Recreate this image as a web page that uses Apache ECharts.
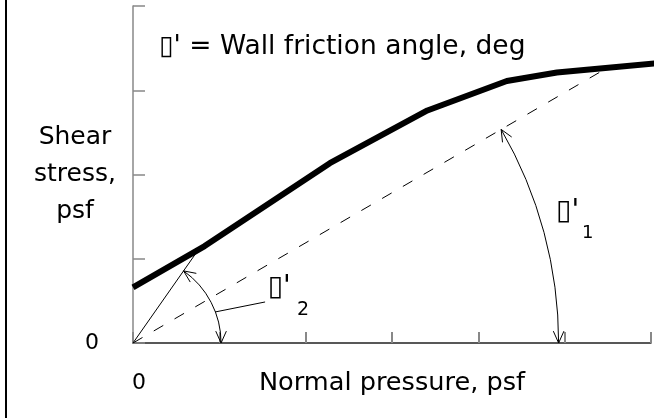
<!DOCTYPE html>
<html><head><meta charset="utf-8">
<script src="https://cdn.jsdelivr.net/npm/echarts@6/dist/echarts.min.js"></script>
<style>html,body{margin:0;padding:0;background:#fff}#c{width:669px;height:418px}</style>
</head><body><div id="c"></div>
<script>
// ---- data ----
const xTicks = [0, 1, 2, 3, 4, 5, 6];
const yTicks = [0, 1, 2, 3, 4];
const envelopeX = [0, 0.83, 2.28, 3.41, 4.33, 4.91, 6.07];
const envelopeY = [0.66, 1.15, 2.135, 2.76, 3.11, 3.21, 3.32];
const delta1LineX = [0, 5.45];
const delta1LineY = [0, 3.24];
const delta2LineX = [0, 0.78];
const delta2LineY = [0, 1.14];
const leaderX = [1.53, 0.95];
const leaderY = [0.487, 0.368];
const arc1RadiusX = 4.93;
const arc2RadiusX = 1.02;
const titleText = "\u25AF' = Wall friction angle, deg";
const xName = "Normal pressure, psf";
const yName = "Shear\nstress,\npsf";
const label1Main = "\u25AF'"; const label1Sub = "1";
const label2Main = "\u25AF'"; const label2Sub = "2";
// label anchors (data units)
const label1At = [4.90, 1.73]; const label1SubAt = [5.20, 1.41];
const label2At = [1.56, 0.82];  const label2SubAt = [1.90, 0.50];

const FONT = "'DejaVu Sans', sans-serif";
const zip = (a, b) => a.map((v, i) => [v, b[i]]);

const chart = echarts.init(document.getElementById('c'), null, {renderer: 'canvas'});
const option = {
  animation: false,
  backgroundColor: '#fff',
  title: {
    text: titleText, left: 159, top: 34, padding: 0,
    textStyle: {fontFamily: FONT, fontSize: 26.5, fontWeight: 'normal', color: '#000'}
  },
  grid: {left: 133, right: 18, top: 6, bottom: 75, containLabel: false, outerBoundsMode: 'none'},
  xAxis: {
    type: 'value', min: xTicks[0], max: xTicks[xTicks.length - 1], interval: 1,
    axisLine: {show: true, onZero: false, lineStyle: {color: '#222', width: 1.5}},
    axisTick: {show: true, inside: true, length: 11, lineStyle: {color: '#888', width: 2}},
    axisLabel: {formatter: v => (v === 0 ? '0' : ''), margin: 29, color: '#000', fontSize: 22,
      fontFamily: FONT, padding: [0, 0, 0, 12]},
    splitLine: {show: false},
    name: xName, nameLocation: 'middle', nameGap: 27, nameMoveOverlap: false,
    nameTextStyle: {fontFamily: FONT, fontSize: 25.6, color: '#000'}
  },
  yAxis: {
    type: 'value', min: yTicks[0], max: yTicks[yTicks.length - 1], interval: 1,
    axisLine: {show: true, onZero: false, lineStyle: {color: '#888', width: 1.5}},
    axisTick: {show: true, inside: true, length: 12, lineStyle: {color: '#888', width: 1.5}},
    axisLabel: {formatter: v => (v === 0 ? '0' : ''), margin: 34, color: '#000', fontSize: 22, fontFamily: FONT},
    splitLine: {show: false},
    name: yName, nameLocation: 'middle', nameRotate: 0, nameGap: 58, nameMoveOverlap: false,
    nameTextStyle: {fontFamily: FONT, fontSize: 25, color: '#000', align: 'center', verticalAlign: 'middle',
      lineHeight: 37, padding: [30, 0, 0, 0]}
  },
  series: [
    {type: 'line', data: zip(envelopeX, envelopeY), symbol: 'none', clip: false, z: 5,
      lineStyle: {color: '#000', width: 6, cap: 'butt', join: 'round'}},
    {type: 'line', data: zip(delta1LineX, delta1LineY), symbol: 'none', z: 3,
      lineStyle: {color: '#000', width: 1, type: [11, 13]}},
    {type: 'line', data: zip(delta2LineX, delta2LineY), symbol: 'none', z: 3,
      lineStyle: {color: '#000', width: 1}},
    {type: 'line', data: zip(leaderX, leaderY), symbol: 'none', z: 3,
      lineStyle: {color: '#000', width: 1}}
  ]
};
chart.setOption(option);

// ---- annotations positioned through the chart's own scales ----
const px = p => chart.convertToPixel({gridIndex: 0}, p);
const O = px([0, 0]);
function angleOf(p) { const q = px(p); return Math.atan2(O[1] - q[1], q[0] - O[0]); }
function arcGraphics(radiusX, endPoint) {
  const r = px([radiusX, 0])[0] - O[0];
  const th = angleOf(endPoint);
  const els = [{type: 'arc', shape: {cx: O[0], cy: O[1], r: r, startAngle: -th, endAngle: 0, clockwise: true},
    style: {stroke: '#000', fill: null, lineWidth: 1}, z: 10}];
  const tips = [
    {p: [O[0] + r * Math.cos(th), O[1] - r * Math.sin(th)], d: [-Math.sin(th), -Math.cos(th)]},
    {p: [O[0] + r, O[1]], d: [0, 1]}
  ];
  const L = 13, a = 0.42;
  tips.forEach(t => {
    [a, -a].forEach(s => {
      const bx = -t.d[0], by = -t.d[1];
      const rx = bx * Math.cos(s) - by * Math.sin(s), ry = bx * Math.sin(s) + by * Math.cos(s);
      els.push({type: 'line', shape: {x1: t.p[0], y1: t.p[1], x2: t.p[0] + L * rx, y2: t.p[1] + L * ry},
        style: {stroke: '#000', lineWidth: 1}, z: 10});
    });
  });
  return els;
}
function txt(text, at, size) {
  const p = px(at);
  return {type: 'text', x: p[0], y: p[1], z: 10,
    style: {text: text, font: size + 'px ' + FONT, fill: '#000', align: 'left', verticalAlign: 'top'}};
}
const graphics = [].concat(
  arcGraphics(arc1RadiusX, [delta1LineX[1], delta1LineY[1]]),
  arcGraphics(arc2RadiusX, [delta2LineX[1], delta2LineY[1]]),
  [txt(label1Main, label1At, 28), txt(label1Sub, label1SubAt, 18),
   txt(label2Main, label2At, 28), txt(label2Sub, label2SubAt, 19),
   {type: 'line', shape: {x1: 6, y1: 0, x2: 6, y2: 418}, style: {stroke: '#000', lineWidth: 2}, z: 10}]
);
chart.setOption({graphic: {elements: graphics}});
</script></body></html>
